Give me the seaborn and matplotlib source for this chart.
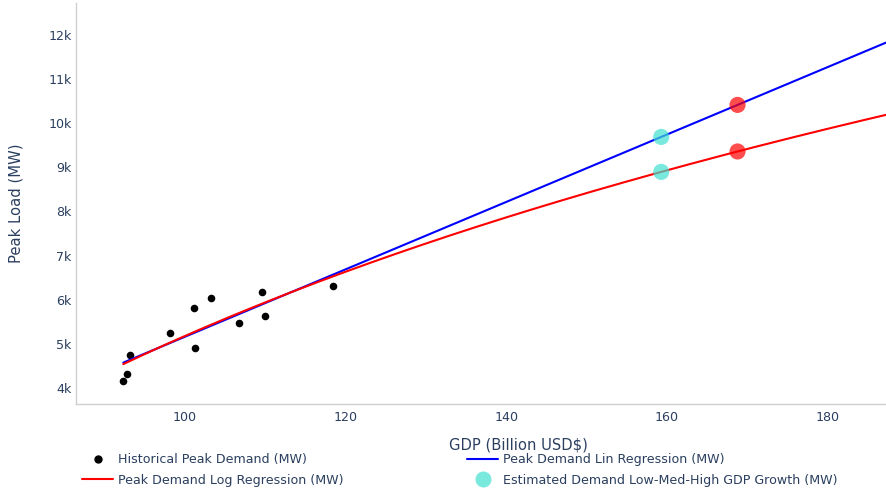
import numpy as np
import matplotlib
matplotlib.use("Agg")
import matplotlib.pyplot as plt
import seaborn as sns
from matplotlib.lines import Line2D

# Historical observations: GDP (billion USD) vs. annual peak load (MW)
gdp_hist = [92.32, 92.78, 93.12, 98.17, 101.08, 101.28, 103.28, 106.77, 109.59, 110.00, 118.43]
peak_hist = [4166, 4318, 4750, 5250, 5802, 4909, 6030, 5470, 6175, 5636, 6318]

# GDP growth scenarios to project demand for
gdp_scenarios = [159.3, 168.8]
scenario_colors = ["#40E0D0", "#FF0000"]

x_ticks = [100, 120, 140, 160, 180]
y_ticks = [4000, 5000, 6000, 7000, 8000, 9000, 10000, 11000, 12000]
y_tick_labels = ["4k", "5k", "6k", "7k", "8k", "9k", "10k", "11k", "12k"]

GDP_MAX = 196.5
TEXT = "#2a3f5f"
AXIS_LINE = "#cfcfcf"

sns.set_theme(style="white")
plt.rcParams["font.family"] = ["DejaVu Sans"]

# Fit linear and logarithmic demand models
x = np.asarray(gdp_hist, dtype=float)
y = np.asarray(peak_hist, dtype=float)
lin_coef = np.polyfit(x, y, 1)
log_coef = np.polyfit(np.log(x), y, 1)

def lin_model(g):
    return np.polyval(lin_coef, g)

def log_model(g):
    return np.polyval(log_coef, np.log(g))

grid = np.linspace(x.min(), GDP_MAX, 300)

fig = plt.figure(figsize=(8.87, 4.91), dpi=100)
W, H = 887, 491
left, right, top, bottom = 76, 960, 3, 404
ax = fig.add_axes([left / W, 1 - bottom / H, (right - left) / W, (bottom - top) / H])

sns.scatterplot(x=gdp_hist, y=peak_hist, color="black", s=30, linewidth=0, ax=ax, zorder=3)
sns.lineplot(x=grid, y=lin_model(grid), color="blue", linewidth=1.5, ax=ax, zorder=4)
sns.lineplot(x=grid, y=log_model(grid), color="red", linewidth=1.5, ax=ax, zorder=5)

scen = np.asarray(gdp_scenarios)
for model in (lin_model, log_model):
    sns.scatterplot(x=scen, y=model(scen), hue=list(range(len(scen))),
                    palette=scenario_colors, s=135, alpha=0.7, linewidth=0,
                    legend=False, ax=ax, zorder=6)

ax.set_xlim(86.43, 196.5)
ax.set_ylim(3637, 12725)
ax.set_xticks(x_ticks)
ax.set_xticklabels([str(t) for t in x_ticks])
ax.set_yticks(y_ticks)
ax.set_yticklabels(y_tick_labels)
ax.tick_params(axis="both", length=0, labelsize=9.1, colors=TEXT)
ax.tick_params(axis="x", pad=5)
ax.tick_params(axis="y", pad=3)

for side in ("top", "right"):
    ax.spines[side].set_visible(False)
for side in ("left", "bottom"):
    ax.spines[side].set_color(AXIS_LINE)
    ax.spines[side].set_linewidth(1.0)
ax.grid(False)

ax.set_xlabel("GDP (Billion USD$)", fontsize=10.6, color=TEXT)
ax.set_ylabel("Peak Load (MW)", fontsize=10.6, color=TEXT)
ax.xaxis.set_label_coords(0.5, (bottom - 445) / (bottom - top))
ax.xaxis.label.set_va("center")
ax.yaxis.set_label_coords((16 - left) / (right - left), 0.5)
ax.yaxis.label.set_va("center")

# Two-column legend under the plot
h_hist = Line2D([], [], marker="o", linestyle="", color="black", markersize=5)
h_lin = Line2D([], [], color="blue", linewidth=1.5)
h_log = Line2D([], [], color="red", linewidth=1.5)
h_est = Line2D([], [], marker="o", linestyle="", color=scenario_colors[0],
               alpha=0.7, markersize=11.5, markeredgewidth=0)

legend_kw = dict(loc="center left", frameon=False, borderpad=0, borderaxespad=0,
                 handlelength=2.46, handletextpad=0.4, labelspacing=0.6,
                 fontsize=9.1, labelcolor=TEXT)
fig.legend([h_hist, h_log],
           ["Historical Peak Demand (MW)", "Peak Demand Log Regression (MW)"],
           bbox_to_anchor=(82 / W, 1 - 470 / H), **legend_kw)
fig.legend([h_lin, h_est],
           ["Peak Demand Lin Regression (MW)", "Estimated Demand Low-Med-High GDP Growth (MW)"],
           bbox_to_anchor=(467 / W, 1 - 470 / H), **legend_kw)

fig.savefig("out.png", dpi=100)
